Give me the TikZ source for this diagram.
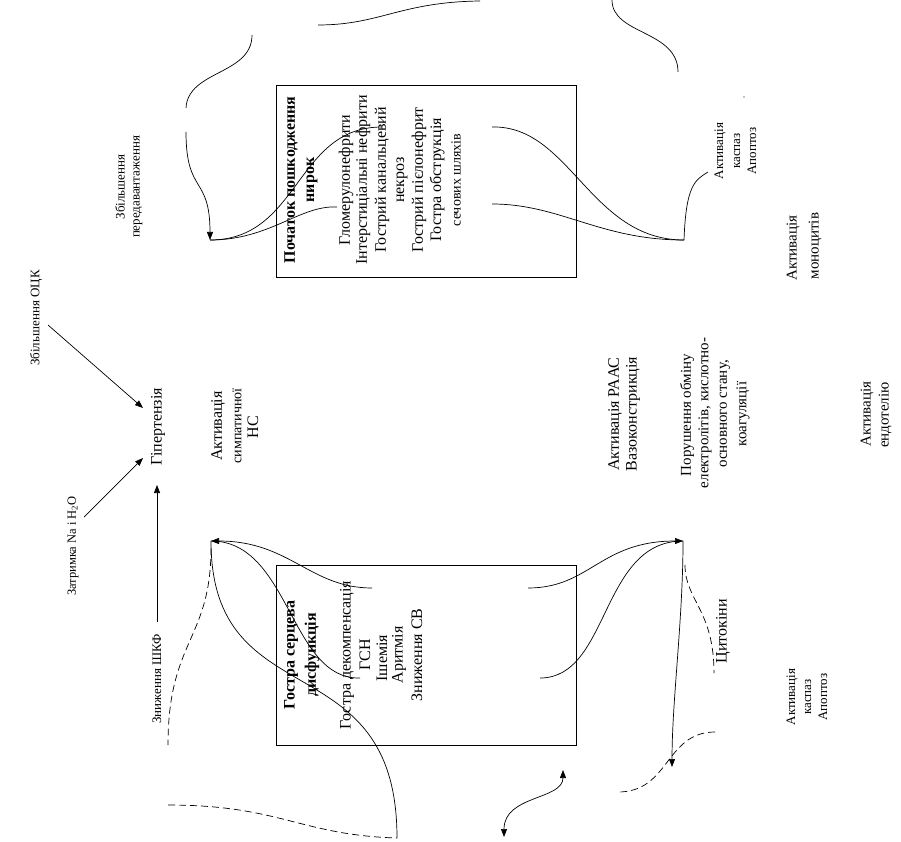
\documentclass[tikz,border=0pt]{standalone}
\usepackage{fontspec}
\setmainfont{Liberation Serif}
\usetikzlibrary{arrows.meta}
\begin{document}
\begin{tikzpicture}[x=1pt,y=-1pt,
  lbl/.style={rotate=90,inner sep=0pt,anchor=center},
  big/.style={lbl,font=\fontsize{16}{19}\selectfont},
  bigb/.style={lbl,font=\fontsize{16}{19}\selectfont\bfseries},
  mid/.style={lbl,font=\fontsize{15}{18}\selectfont},
  sml/.style={lbl,font=\fontsize{13}{15}\selectfont},
  con/.style={line width=0.7pt},
  dsh/.style={con,dash pattern=on 7pt off 4pt},
  arr/.style={-{Triangle[length=8pt,width=6pt]}},
  box/.style={draw,line width=0.9pt,inner sep=0pt,anchor=north west}
]
\useasboundingbox (0,0) rectangle (901,842);
\fill[white] (0,0) rectangle (901,842);

% boxes
\node[box,minimum width=300pt,minimum height=192pt] (kbox) at (276,85) {};
\node[box,minimum width=300pt,minimum height=180pt] (hbox) at (276,565) {};

% kidney box text
\node[bigb] (t1) at (291,180) {Початок пошкодження};
\node[bigb] (t2) at (312,180) {нирок};
\node[big] (t3) at (346,180) {Гломерулонефрити};
\node[big] (t4) at (363,180) {Інтерстиціальні нефрити};
\node[big] (t5) at (382,180) {Гострий канальцевий};
\node[big] (t6) at (402,180) {некроз};
\node[big] (t7) at (419,180) {Гострий пієлонефрит};
\node[big] (t8) at (437,180) {Гостра обструкція};
\node[lbl,font=\fontsize{14}{16}\selectfont] (t9) at (456,180) {сечових шляхів};

% heart box text
\node[bigb] (b1) at (291,655) {Гостра серцева};
\node[bigb] (b2) at (312,655) {дисфункція};
\node[big] (b3) at (347,655) {Гостра декомпенсація};
\node[big] (b4) at (365,655) {ГСН};
\node[big] (b5) at (382,658) {Ішемія};
\node[big] (b6) at (399,655) {Аритмія};
\node[big] (b7) at (417,655) {Зниження СВ};

% left labels
\node[sml] (pv1) at (120,187) {Збільшення};
\node[sml] (pv2) at (138,187) {передавантаження};
\node[sml] (ock) at (36,318) {Збільшення ОЦК};
\node[big] (hyp) at (158,427) {Гіпертензія};
\node[big] (sn1) at (218,426) {Активація};
\node[lbl,font=\fontsize{14}{16}\selectfont] (sn2) at (237,426) {симпатичної};
\node[big] (sn3) at (253,427) {НС};
\node[lbl,font=\fontsize{12.5}{15}\selectfont] (na) at (73,546) {Затримка Na і H\textsubscript{2}O};
\node[sml] (shkf) at (157,679) {Зниження ШКФ};

% right labels
\node[big] (ra1) at (615,414) {Активація РААС};
\node[big] (ra2) at (633,414) {Вазоконстрикція};
\node[mid] (po1) at (687,415) {Порушення обміну};
\node[mid] (po2) at (705,413) {електролітів, кислотно-};
\node[mid] (po3) at (725,414) {основного стану,};
\node[mid] (po4) at (743,414) {коагуляції};
\node[mid] (en1) at (867,414) {Активація};
\node[mid] (en2) at (885,415) {ендотелію};
\node[sml] (ka1) at (720,151) {Активація};
\node[sml] (ka2) at (737,151) {каспаз};
\node[sml] (ka3) at (752,151) {Апоптоз};
\node[mid] (mo1) at (793,248) {Активація};
\node[mid] (mo2) at (815,246) {моноцитів};
\node[sml] (kb1) at (792,697) {Активація};
\node[sml] (kb2) at (808,697) {каспаз};
\node[sml] (kb3) at (823,697) {Апоптоз};
\node[big] (cyt) at (723,631) {Цитокіни};
\fill (744,97) circle (0.6pt);

% coordinates
\coordinate (kl) at (210,240);
\coordinate (kr) at (684,240);
\coordinate (hl) at (211,541);
\coordinate (hr) at (683,541);
\coordinate (a1s) at (252,35);
\coordinate (a1e) at (186,108);
\coordinate (a2s) at (186,132);
\coordinate (b1s) at (382,127);
\coordinate (b2s) at (337,207);
\coordinate (ds) at (318,25);
\coordinate (de) at (480,1);
\coordinate (c1s) at (612,0);
\coordinate (c1e) at (678,72);
\coordinate (e1s) at (492,127);
\coordinate (e2s) at (492,204);
\coordinate (fe) at (708,172);
\coordinate (g1s) at (372,588);
\coordinate (g2s) at (360,678);
\coordinate (g3e) at (397,838);
\coordinate (h1s) at (211,548);
\coordinate (h1e) at (168,745);
\coordinate (h2s) at (168,805);
\coordinate (i1s) at (528,588);
\coordinate (i2s) at (540,678);
\coordinate (je) at (672,767);
\coordinate (k1s) at (685,565);
\coordinate (k1e) at (714,673);
\coordinate (k2s) at (715,732);
\coordinate (k2e) at (618,792);
\coordinate (ls) at (563,770);
\coordinate (le) at (504,837);
\coordinate (ocks) at (48,325);
\coordinate (ocke) at (143,408);
\coordinate (nas) at (84,517);
\coordinate (nae) at (143,458);
\coordinate (shs) at (157,622);
\coordinate (she) at (157,485);

% straight arrows to hypertension
\draw[con,arr] (ocks) -- (ocke);
\draw[con,arr] (nas) -- (nae);
\draw[con,arr] (shs) -- (she);

% top-left curves
\draw[con] (a1s) .. controls (252,75) and (188,70) .. (a1e);
\draw[con,arr] (a2s) .. controls (186,195) and (210,175) .. (kl);
\draw[con] (b1s) .. controls (295,127) and (300,240) .. (kl);
\draw[con] (b2s) .. controls (300,205) and (270,240) .. (kl);
\draw[con] (ds) .. controls (380,25) and (400,2) .. (de);

% top-right curves
\draw[con] (c1s) .. controls (612,35) and (678,30) .. (c1e);
\draw[con] (e1s) .. controls (570,125) and (590,240) .. (kr);
\draw[con] (e2s) .. controls (560,204) and (600,240) .. (kr);
\draw[con] (kr) .. controls (686,185) and (695,180) .. (fe);

% bottom-left curves
\draw[con,arr] (g1s) .. controls (310,588) and (290,541) .. (hl);
\draw[con] (g2s) .. controls (290,680) and (290,541) .. (hl);
\draw[con] (hl) .. controls (211,720) and (397,640) .. (g3e);
\draw[dsh] (h1s) .. controls (211,640) and (168,640) .. (h1e);
\draw[dsh] (h2s) .. controls (280,805) and (300,835) .. (g3e);

% bottom-right curves
\draw[con,arr] (i1s) .. controls (590,588) and (600,541) .. (hr);
\draw[con] (i2s) .. controls (610,678) and (600,541) .. (hr);
\draw[con,arr] (hr) .. controls (683,620) and (672,700) .. (je);
\draw[dsh] (k1s) .. controls (685,600) and (714,610) .. (k1e);
\draw[dsh] (k2s) .. controls (665,732) and (670,792) .. (k2e);
\draw[con,{Triangle[length=8pt,width=6pt]}-{Triangle[length=8pt,width=6pt]}] (ls) .. controls (563,800) and (504,795) .. (le);
\end{tikzpicture}
\end{document}
